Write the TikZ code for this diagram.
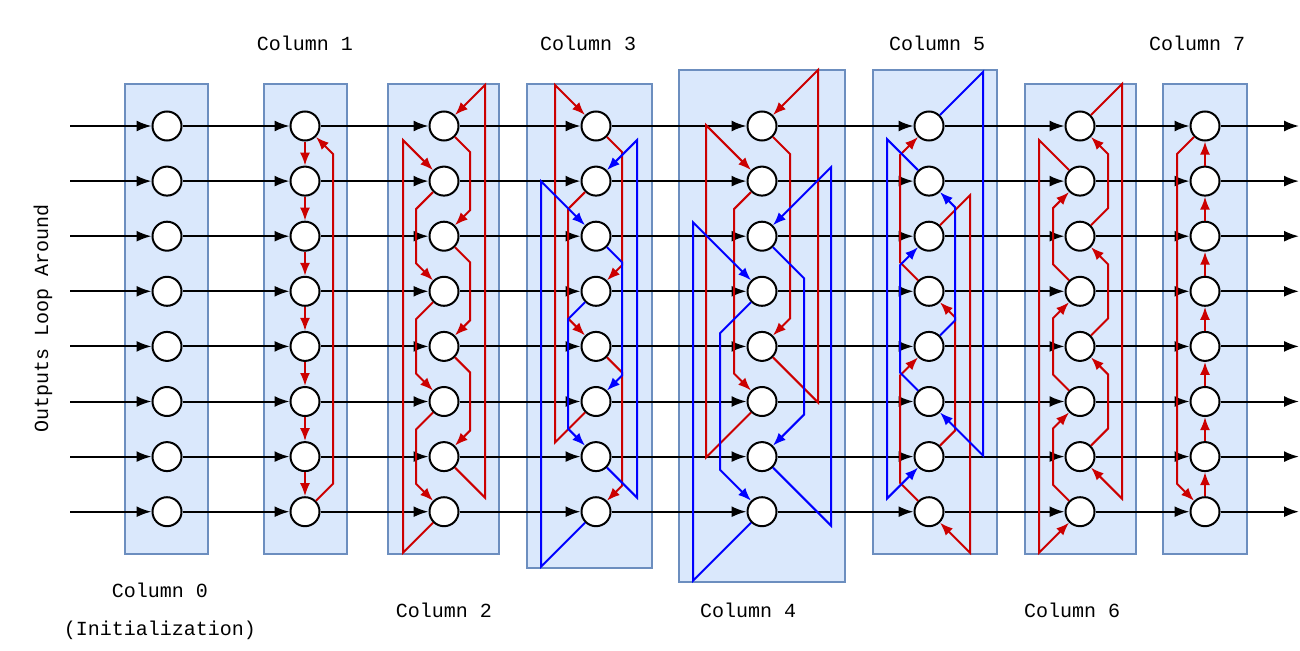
\documentclass[tikz,border=0pt]{standalone}
\usepackage{fontspec}
\newfontfamily\monof{Liberation Mono}
\usetikzlibrary{arrows.meta,calc}
\definecolor{boxfill}{RGB}{218,232,252}
\definecolor{boxline}{RGB}{108,142,191}
\definecolor{myred}{RGB}{204,0,0}
\definecolor{myblue}{RGB}{0,0,255}
\tikzset{
  colbox/.style={fill=boxfill,draw=boxline,line width=2pt},
  cnode/.style={circle,draw=black,fill=white,line width=2pt,minimum size=29pt,inner sep=0pt},
  blk/.style={line width=2pt,-{Latex[length=15pt,width=11pt]}},
  rd/.style={draw=myred,line width=2pt,-{Latex[length=13pt,width=10pt]}},
  bl/.style={draw=myblue,line width=2pt,-{Latex[length=13pt,width=10pt]}},
  lbl/.style={font=\monof\fontsize{20}{24}\selectfont}
}
\newcommand\J[6]{\draw[#1] (n#2-#3) -- ++(#5,#6) -- ($(n#2-#4)+(#5,-#6)$) -- (n#2-#4);}
\begin{document}
\begin{tikzpicture}[x=1pt,y=-1pt]
\useasboundingbox (0,0) rectangle (1300,650);
% boxes
\draw[colbox] (125,84) rectangle (208,554);
\draw[colbox] (264,84) rectangle (347,554);
\draw[colbox] (388,84) rectangle (499,554);
\draw[colbox] (527,84) rectangle (652,568);
\draw[colbox] (679,70) rectangle (845,582);
\draw[colbox] (873,70) rectangle (997,554);
\draw[colbox] (1025,84) rectangle (1136,554);
\draw[colbox] (1163,84) rectangle (1247,554);
% nodes
\foreach \c/\x in {0/167,1/305,2/444,3/596,4/762,5/929,6/1080,7/1205}{
  \foreach \r in {1,...,8}{
    \node[cnode] (n\c-\r) at (\x,{126+55.1*(\r-1)}) {};
  }
}
% black
\foreach \r in {1,...,8}{
  \coordinate (in\r) at (70,{126+55.1*(\r-1)});
  \coordinate (out\r) at (1299,{126+55.1*(\r-1)});
  \draw[blk] (in\r) -- (n0-\r);
  \draw[blk] (n7-\r) -- (out\r);
  \foreach \c [evaluate=\c as \d using int(\c+1)] in {0,...,6}{
    \draw[blk] (n\c-\r) -- (n\d-\r);
  }
}
% column 1
\foreach \r [evaluate=\r as \s using int(\r+1)] in {1,...,7}{
  \draw[rd] (n1-\r) -- (n1-\s);
  \draw[rd] (n7-\s) -- (n7-\r);
}
\J{rd}{1}{8}{1}{28}{-28}
\J{rd}{7}{1}{8}{-28}{28}
% column 2
\J{rd}{2}{1}{3}{26}{26}
\J{rd}{2}{3}{5}{26}{26}
\J{rd}{2}{5}{7}{26}{26}
\J{rd}{2}{7}{1}{41}{41}
\J{rd}{2}{2}{4}{-28}{28}
\J{rd}{2}{4}{6}{-28}{28}
\J{rd}{2}{6}{8}{-28}{28}
\J{rd}{2}{8}{2}{-41}{41}
% column 3
\J{rd}{3}{1}{4}{26}{26}
\J{rd}{3}{5}{8}{26}{26}
\J{rd}{3}{2}{5}{-28}{28}
\J{rd}{3}{6}{1}{-41}{41}
\J{bl}{3}{3}{6}{26}{26}
\J{bl}{3}{4}{7}{-28}{28}
\J{bl}{3}{7}{2}{41}{41}
\J{bl}{3}{8}{3}{-55}{55}
% column 4
\J{rd}{4}{1}{5}{28}{28}
\J{rd}{4}{5}{1}{56}{56}
\J{rd}{4}{2}{6}{-28}{28}
\J{rd}{4}{6}{2}{-56}{56}
\J{bl}{4}{3}{7}{42}{42}
\J{bl}{4}{7}{3}{69}{69}
\J{bl}{4}{4}{8}{-42}{42}
\J{bl}{4}{8}{4}{-69}{69}
% column 5
\J{rd}{5}{4}{1}{-29}{-29}
\J{rd}{5}{8}{5}{-29}{-29}
\J{rd}{5}{7}{4}{26}{-26}
\J{rd}{5}{3}{8}{41}{-41}
\J{bl}{5}{6}{3}{-29}{-29}
\J{bl}{5}{5}{2}{26}{-26}
\J{bl}{5}{2}{7}{-42}{-42}
\J{bl}{5}{1}{6}{54}{-54}
% column 6
\J{rd}{6}{4}{2}{-27}{-27}
\J{rd}{6}{6}{4}{-27}{-27}
\J{rd}{6}{8}{6}{-27}{-27}
\J{rd}{6}{2}{8}{-41}{-41}
\J{rd}{6}{3}{1}{28}{-28}
\J{rd}{6}{5}{3}{28}{-28}
\J{rd}{6}{7}{5}{28}{-28}
\J{rd}{6}{1}{7}{42}{-42}
% labels
\node[lbl] (t1) at (305,43) {Column 1};
\node[lbl] (t3) at (588,43) {Column 3};
\node[lbl] (t5) at (937,43) {Column 5};
\node[lbl] (t7) at (1197,43) {Column 7};
\node[lbl] (t0) at (160,590) {Column 0};
\node[lbl] (ti) at (160,630) {(Initialization)};
\node[lbl] (t2) at (444,610) {Column 2};
\node[lbl] (t4) at (748,610) {Column 4};
\node[lbl] (t6) at (1072,610) {Column 6};
\node[lbl,rotate=90] (tl) at (43,318) {Outputs Loop Around};
\end{tikzpicture}
\end{document}
